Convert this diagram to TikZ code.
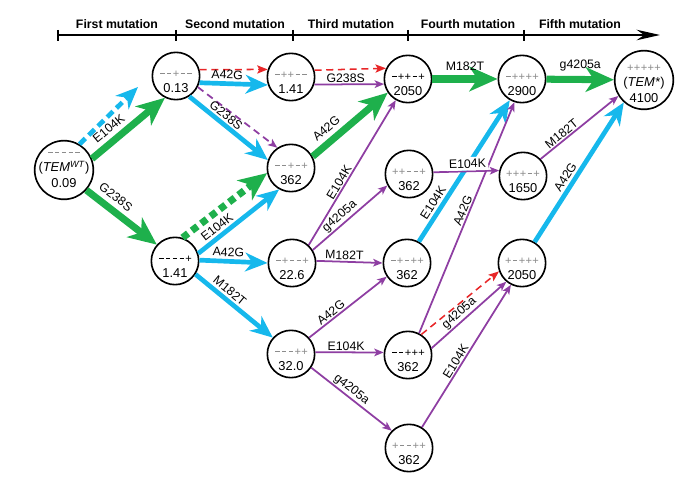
\documentclass[tikz,border=0pt]{standalone}
\usepackage{fontspec}
\setmainfont{Liberation Sans}
\usetikzlibrary{arrows.meta}
\definecolor{mgreen}{RGB}{30,176,76}
\definecolor{mcyan}{RGB}{22,184,236}
\definecolor{mpurple}{RGB}{142,62,162}
\definecolor{mred}{RGB}{232,38,40}
\newcommand{\gc}[1]{\makebox[5.8pt]{\if#1+{+}\else\rule[2.9pt]{3.6pt}{0.6pt}\fi}}
\newcommand{\gt}[6][15pt]{\rule{0pt}{#1}{\color{black!45}\fontsize{9.5}{9.5}\selectfont\gc#2\gc#3\gc#4\gc#5\gc#6}}
\newcommand{\gk}[6][15pt]{\rule{0pt}{#1}{\fontsize{9.5}{9.5}\selectfont\gc#2\gc#3\gc#4\gc#5\gc#6}}

\begin{document}
\begin{tikzpicture}[x=0.03cm, y=-0.03cm,
    disc/.style={circle, draw, fill=white, line width=1.4pt, align=center},
    mut/.style={disc, minimum size=1.42cm, inner sep=-2pt, font=\fontsize{11}{13}\selectfont},
    big/.style={disc, minimum size=1.76cm, inner sep=-6pt, font=\fontsize{11}{13.5}\selectfont},
    lab/.style={font=\fontsize{10.5}{10.5}\selectfont, sloped, above, inner sep=1pt},
    grn/.style={draw=mgreen, line width=6pt, -{Stealth[length=24pt, width=21pt, inset=7pt]}},
    gdd/.style={grn, dash pattern=on 6pt off 4pt},
    cyn/.style={draw=mcyan, line width=4pt, -{Stealth[length=19pt, width=16pt, inset=6pt]}},
    cyd/.style={cyn, dash pattern=on 7pt off 4pt},
    prp/.style={draw=mpurple, line width=1.5pt, -{Stealth[length=8pt, width=6.5pt, inset=2pt]}},
    pdd/.style={prp, dash pattern=on 6pt off 4pt},
    rdd/.style={draw=mred, line width=1.3pt, dash pattern=on 6pt off 4pt, -{Stealth[length=9pt, width=7pt, inset=2pt]}}]
  \useasboundingbox (0,0) rectangle (692,484);

  \draw[line width=1.2pt, -{Stealth[length=20pt, width=9pt]}] (58,35) -- (660,35);
  \foreach \x in {58,176,293,408,524}
    \draw[line width=1.2pt] (\x,30) -- (\x,41);
  \foreach \x/\t in {117/First, 235/Second, 351/Third, 468/Fourth, 580/Fifth}
    \node[font=\fontsize{10.5}{10.5}\selectfont\bfseries] at (\x,24) {\t{} mutation};

  \node[big] (wt) at (64,170) {\gt[0pt]-----\\(\textit{TEM}\textsuperscript{\textit{WT}})\\0.09};
  \node[mut] (n1) at (176,76) {\gt--+--\\0.13};
  \node[mut] (n2) at (291,77) {\gt-++--\\1.41};
  \node[mut] (n3) at (175,261) {\gk----+\\1.41};
  \node[mut] (m1) at (291,168) {\gt--+-+\\362};
  \node[mut] (m2) at (292,263) {\gt-+--+\\22.6};
  \node[mut] (m3) at (291,354) {\gt---++\\32.0};
  \node[mut] (t1) at (408,79) {\gk-++-+\\2050};
  \node[mut] (t2) at (409,174) {\gt++--+\\362};
  \node[mut] (t3) at (407,263) {\gt-+-++\\362};
  \node[mut] (t4) at (408,355) {\gk--+++\\362};
  \node[mut] (t5) at (409,448) {\gt+--++\\362};
  \node[mut] (f1) at (522,79) {\gt-++++\\2900};
  \node[mut] (f2) at (523,176) {\gt+++-+\\1650};
  \node[mut] (f3) at (522,263) {\gt+-+++\\2050};
  \node[big] (tem) at (644,80) {\gt[12pt]+++++\\(\textit{TEM*})\\4100};
  \coordinate (dc) at (138,87);

  \draw[cyd] (wt.59) -- (dc);
  \draw[grn] (wt.22) -- node[lab, above=3pt, pos=.34] {E104K} (n1.-117);
  \draw[grn] (wt.-42) -- node[lab, above=3pt, pos=.31] {G238S} (n3.138);
  \draw[rdd] (n1.15) -- (n2.162);
  \draw[cyn] (n1.-16) -- node[lab, above=1pt, pos=.4] {A42G} (n2.199);
  \draw[pdd] (n1.-27) -- (m1.124);
  \draw[cyn] (n1.-57) -- node[lab, above=.5pt, pos=.4] {G238S} (m1.161);
  \draw[rdd] (n2.16) -- (t1.154);
  \draw[prp] (n2.-18) -- node[lab, pos=.45] {G238S} (t1.192);
  \draw[gdd] (n3.72) -- (m1.192);
  \draw[cyn] (n3.18) -- node[lab, above=1pt, pos=.3] {E104K} (m1.241);
  \draw[cyn] (n3.2) -- node[lab, above=1pt, pos=.42] {A42G} (m2.180);
  \draw[cyn] (n3.-33) -- node[lab, above=1pt, pos=.37] {M182T} (m3.138);
  \draw[grn] (m1.28) -- node[lab, above=3pt, pos=.29] {A42G} (t1.214);
  \draw[prp] (m2.47) -- node[lab, pos=.41] {E104K} (t1.240);
  \draw[prp] (m2.32) -- node[lab, pos=.43] {g4205a} (t2.208);
  \draw[prp] (m2.5) -- node[lab, pos=.42] {M182T} (t3.180);
  \draw[prp] (m3.42) -- node[lab, pos=.33] {A42G} (t3.214);
  \draw[prp] (m3.4) -- node[lab, pos=.45] {E104K} (t4.174);
  \draw[prp] (m3.-34) -- node[lab, pos=.44] {g4205a} (t5.135);
  \draw[grn] (t1) -- node[lab, above=3pt] {M182T} (f1);
  \draw[grn] (f1) -- node[lab, above=3pt] {g4205a} (tem);
  \draw[cyn] (t3.61) -- node[lab, above=1pt, pos=.24] {E104K} (f1.240);
  \draw[prp] (t4.63) -- node[lab, pos=.52] {A42G} (f1.252);
  \draw[prp] (t2.4) -- node[lab, fill=white, inner sep=2pt, pos=.52] {E104K} (f2.167);
  \draw[rdd] (t4.57) -- (f3.200);
  \draw[prp] (t4.16) -- node[lab, pos=.44] {g4205a} (f3.230);
  \draw[prp] (t5.58) -- node[lab, pos=.44] {E104K} (f3.243);
  \draw[prp] (f2.44) -- node[lab, pos=.32] {M182T} (tem.212);
  \draw[cyn] (f3.59) -- node[lab, above=1pt, pos=.43] {A42G} (tem.228);
\end{tikzpicture}
\end{document}
